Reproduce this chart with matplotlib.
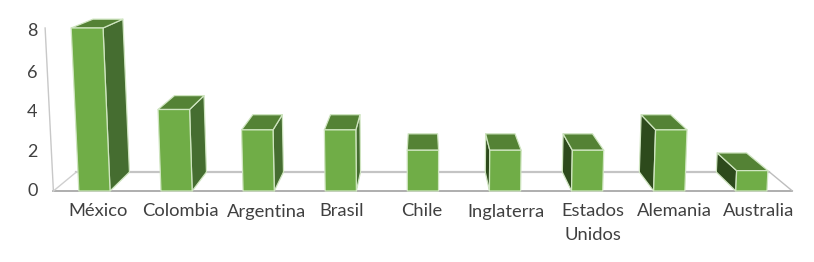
import matplotlib
matplotlib.use("Agg")
from matplotlib import pyplot as plt
from matplotlib.transforms import ScaledTranslation

countries = ["México", "Colombia", "Argentina", "Brasil", "Chile", "Inglaterra", "Estados\nUnidos", "Alemania", "Australia"]
values = [8, 4, 3, 3, 2, 2, 2, 3, 1]
y_ticks = [0, 2, 4, 6, 8]
# label nudges in pixels, the labels are not quite centred on their ticks
label_shift = [4, 3.5, 8, 0.5, -1.5, 0.5, 5.5, 5, 7.5]
y_label_shift = [2, 0, -1, -3, -1]

W, H = 814, 262
half_w = 0.19
x_mid = 4
depth_y = 0.93
shrink = 0.062
lean = 0.0028

plt.rcParams["font.family"] = ["Lato", "DejaVu Sans"]

fig = plt.figure(figsize=(W / 100, H / 100), dpi=100)
ax = fig.add_axes([53.4 / W, 1 - 191 / H, 739 / W, 163 / H])
ax.set_xlim(-0.5, 8.5)
ax.set_ylim(0, 8)
ax.patch.set_visible(False)
for s in ax.spines.values():
    s.set_visible(False)


# fake perspective: d=0 is the front plane, d=1 the back of the floor
def proj(x, v, d=0):
    s = 1 - shrink * d
    return x_mid + (x - x_mid) * (1 + lean * v) * s, v * s + depth_y * d


def face(points, color, z):
    xs, ys = zip(*[proj(*p) for p in points])
    ax.fill(xs, ys, facecolor=color, edgecolor="#cfe5c0", linewidth=0.9, joinstyle="round", zorder=z, clip_on=False)


def gridline(p1, p2, color, lw=1.3):
    a, b = proj(*p1), proj(*p2)
    ax.plot([a[0], b[0]], [a[1], b[1]], color=color, linewidth=lw, zorder=1, clip_on=False)


# floor and wall
gridline((-0.5, 0, 1), (8.5, 0, 1), "#c4c4c4", 1.6)
gridline((-0.5, 0, 0), (8.5, 0, 0), "#a8a8a8", 1.3)
gridline((-0.5, 0, 0), (-0.5, 0, 1), "#cfcfcf", 1)
gridline((8.5, 0, 0), (8.5, 0, 1), "#bdbdbd", 1)
gridline((-0.5, 0, 0), (-0.5, 8, 0), "#c8c8c8", 1)

for i, v in enumerate(values):
    l, r = i - half_w, i + half_w
    if proj(r, v, 1)[0] > proj(r, v, 0)[0] + 0.01:
        face([(r, 0, 0), (r, 0, 1), (r, v, 1), (r, v, 0)], "#456d30", 2)
    if proj(l, v, 1)[0] < proj(l, v, 0)[0] - 0.01:
        face([(l, 0, 0), (l, 0, 1), (l, v, 1), (l, v, 0)], "#2d4a1c", 2)
    face([(l, v, 0), (l, v, 1), (r, v, 1), (r, v, 0)], "#548235", 3)
    face([(l, 0, 0), (r, 0, 0), (r, v, 0), (l, v, 0)], "#70ad47", 4)

ax.set_xticks(range(len(countries)))
ax.set_xticklabels(countries, fontsize=13.2, color="#404040", linespacing=1.6, va="top")
ax.set_yticks(y_ticks)
ax.set_yticklabels(y_ticks, fontsize=13, color="#404040")
ax.tick_params(axis="x", length=0, pad=9)
ax.tick_params(axis="y", length=0, pad=11.5)

for lab, dx in zip(ax.get_xticklabels(), label_shift):
    lab.set_transform(lab.get_transform() + ScaledTranslation(dx / 100, 0, fig.dpi_scale_trans))
for lab, dy in zip(ax.get_yticklabels(), y_label_shift):
    lab.set_transform(lab.get_transform() + ScaledTranslation(0, dy / 100, fig.dpi_scale_trans))

fig.savefig("out.png", dpi=100)
